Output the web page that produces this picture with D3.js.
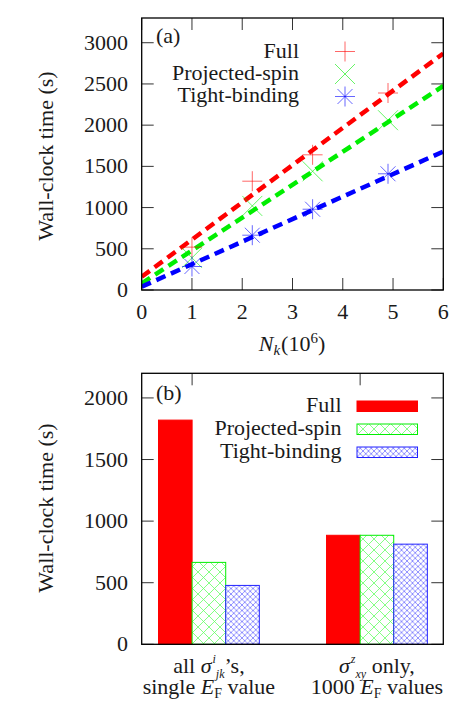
<!DOCTYPE html>
<html><head><meta charset="utf-8"><script src="https://cdn.jsdelivr.net/npm/d3@7"></script></head>
<body style="margin:0">
<script>
// ---- data, panel (a) ----
const seriesNames = ["Full", "Projected-spin", "Tight-binding"];
const nkFull = [1.0, 2.2, 3.4, 4.9];
const timeFull = [520, 1320, 1640, 2390];
const nkProj = [1.0, 2.2, 3.4, 4.9];
const timeProj = [390, 1020, 1440, 2060];
const nkTight = [1.0, 2.2, 3.4, 4.9];
const timeTight = [285, 665, 980, 1410];
// fitted lines, end points at Nk = 0 and Nk = 6
const fitX = [0, 6];
const fitFull = [160, 2870];
const fitProj = [80, 2475];
const fitTight = [40, 1680];
const xTicksA = [0, 1, 2, 3, 4, 5, 6];
const yTicksA = [0, 500, 1000, 1500, 2000, 2500, 3000];

// ---- data, panel (b) ----
const barFull = [1820, 885];
const barProj = [665, 885];
const barTight = [478, 813];
const yTicksB = [0, 500, 1000, 1500, 2000];

const colors = ["#ff0000", "#00ee00", "#0000ff"];
const FS = 22;
const svg = d3.select("body").append("svg")
    .attr("id", "fig")
    .attr("width", 473).attr("height", 709)
    .style("display", "block");

// patterns for the hatched bars
const defs = svg.append("defs");
function hatch(id, size, color) {
    let p = defs.append("pattern")
        .attr("id", id)
        .attr("patternUnits", "userSpaceOnUse")
        .attr("width", size).attr("height", size);
    p.append("rect").attr("width", size).attr("height", size).style("fill", "#fff");
    p.append("path")
        .attr("d", `M0,0L${size},${size}M${size},0L0,${size}`)
        .style("stroke", color).style("stroke-width", 0.8).style("fill", "none");
}
hatch("hatchGreen", 11, "#66ff66");
hatch("hatchBlue", 5.5, "#7777ff");

function frame(g, x0, x1, y0, y1) {
    g.append("rect")
        .attr("x", x0).attr("y", y0)
        .attr("width", x1 - x0).attr("height", y1 - y0)
        .style("fill", "none").style("stroke", "#000").style("stroke-width", 1.3);
}

// text helper: font set directly on every label
function label(g, x, y, anchor) {
    return g.append("text")
        .attr("x", x).attr("y", y)
        .attr("text-anchor", anchor || "start")
        .style("font-family", '"Liberation Serif", "Times New Roman"', "important")
        .style("font-size", FS + "px")
        .style("fill", "#1a1a1a");
}

// ================= panel (a) =================
const L = 141.7, R = 443.3;
const xA = d3.scaleLinear().domain([0, 6]).range([L, R]);
const yA = d3.scaleLinear().domain([0, 3300]).range([290, 18]);
const gA = svg.append("g");

// ticks (mirrored on all sides)
const tickLen = 12;
gA.selectAll(".xt").data(xTicksA).enter().append("path")
    .attr("d", d => `M${xA(d)},290v${-tickLen}M${xA(d)},18v${tickLen}`)
    .style("stroke", "#333").style("stroke-width", 1);
gA.selectAll(".yt").data(yTicksA).enter().append("path")
    .attr("d", d => `M${L},${yA(d)}h${tickLen}M${R},${yA(d)}h${-tickLen}`)
    .style("stroke", "#333").style("stroke-width", 1);

xTicksA.forEach(d => label(gA, xA(d), 319, "middle").text(d));
yTicksA.forEach(d => label(gA, 128, yA(d) + 7, "end").text(d));

// fit lines
const fits = [fitFull, fitProj, fitTight];
const line = d3.line().x((d, i) => xA(fitX[i])).y(d => yA(d));
gA.append("clipPath").attr("id", "clipA").append("rect")
    .attr("x", L).attr("y", 18).attr("width", R - L).attr("height", 272);
fits.forEach((f, i) => {
    gA.append("path")
        .attr("d", line(f))
        .attr("clip-path", "url(#clipA)")
        .style("fill", "none").style("stroke", colors[i])
        .style("stroke-width", 4.5).style("stroke-dasharray", "10,6");
});

// point markers
function marker(g, type, cx, cy, color, s) {
    let d = "";
    if (type === 0 || type === 2) d += `M${cx - s},${cy}h${2 * s}M${cx},${cy - s}v${2 * s}`;
    if (type === 1 || type === 2) {
        let k = type === 1 ? s : s * 0.75;
        d += `M${cx - k},${cy - k}L${cx + k},${cy + k}M${cx - k},${cy + k}L${cx + k},${cy - k}`;
    }
    g.append("path").attr("d", d)
        .style("stroke", color).style("stroke-width", 1).style("opacity", 0.6).style("fill", "none");
}
const pts = [[nkFull, timeFull], [nkProj, timeProj], [nkTight, timeTight]];
pts.forEach((p, i) => {
    p[0].forEach((x, j) => marker(gA, i, xA(x), yA(p[1][j]), colors[i], 10));
});

frame(gA, L, R, 18, 290);

// legend (a)
seriesNames.forEach((n, i) => {
    label(gA, 299, 58 + 22 * i, "end").text(n);
    marker(gA, i, 345, 51.5 + 22.5 * i, colors[i], 10);
});
label(gA, 156, 43).text("(a)");

// axis titles (a)
label(gA, 0, 0, "middle")
    .attr("transform", "translate(53,156) rotate(-90)")
    .text("Wall-clock time (s)");
const xt = label(gA, 292, 351, "middle");
xt.append("tspan").style("font-style", "italic").text("N");
xt.append("tspan").style("font-style", "italic").style("font-size", "15px").attr("dy", 4).text("k");
xt.append("tspan").attr("dy", -4).attr("dx", 1).text("(10");
xt.append("tspan").style("font-size", "15px").attr("dy", -8).text("6");
xt.append("tspan").attr("dy", 8).text(")");

// ================= panel (b) =================
const T = 373.3, B = 644.3;
const xB = d3.scaleLinear().domain([-0.3, 1.495]).range([L, R]);
const yB = d3.scaleLinear().domain([0, 2200]).range([B, T]);
const gB = svg.append("g");
const barW = 0.2;
const bars = [barFull, barProj, barTight];
const fills = ["#ff0000", "url(#hatchGreen)", "url(#hatchBlue)"];
const strokes = ["#ff0000", "#00ee00", "#2222ff"];

gB.selectAll(".yt").data(yTicksB).enter().append("path")
    .attr("d", d => `M${L},${yB(d)}h${tickLen}M${R},${yB(d)}h${-tickLen}`)
    .style("stroke", "#333").style("stroke-width", 1);
gB.selectAll(".xt").data([0, 1]).enter().append("path")
    .attr("d", d => `M${xB(d)},${T}v${tickLen}`)
    .style("stroke", "#333").style("stroke-width", 1);
yTicksB.forEach(d => label(gB, 128, yB(d) + 7, "end").text(d));

bars.forEach((vals, s) => {
    gB.selectAll(".b" + s).data(vals).enter().append("rect")
        .attr("x", (d, c) => xB(c - barW + s * barW))
        .attr("width", xB(barW) - xB(0))
        .attr("y", d => yB(d))
        .attr("height", d => B - yB(d))
        .style("fill", fills[s])
        .style("stroke", strokes[s]).style("stroke-width", 1);
});

frame(gB, L, R, T, B);

// legend (b)
seriesNames.forEach((n, i) => {
    label(gB, 341.5, 411.5 + 23 * i, "end").text(n);
    gB.append("rect")
        .attr("x", 357).attr("y", 401 + 23 * i)
        .attr("width", 60.5).attr("height", 10.5)
        .style("fill", fills[i]).style("stroke", strokes[i]).style("stroke-width", 1);
});
label(gB, 156, 400).text("(b)");

label(gB, 0, 0, "middle")
    .attr("transform", "translate(53,508) rotate(-90)")
    .text("Wall-clock time (s)");

// category labels
const c1 = label(gB, xB(0.1), 673, "middle");
c1.append("tspan").text("all ");
c1.append("tspan").style("font-style", "italic").text("σ");
c1.append("tspan").style("font-style", "italic").style("font-size", "12px").attr("dx", 1).attr("dy", -10).text("i");
c1.append("tspan").style("font-style", "italic").style("font-size", "12px").attr("dy", 15).text("jk");
c1.append("tspan").attr("dy", -5).text("’s,");
const c2 = label(gB, xB(0.1), 694, "middle");
c2.append("tspan").text("single ");
c2.append("tspan").style("font-style", "italic").text("E");
c2.append("tspan").style("font-size", "14px").attr("dy", 4).text("F");
c2.append("tspan").attr("dy", -4).text(" value");

const c3 = label(gB, xB(1.1), 673, "middle");
c3.append("tspan").style("font-style", "italic").text("σ");
c3.append("tspan").style("font-style", "italic").style("font-size", "12px").attr("dx", 1).attr("dy", -10).text("z");
c3.append("tspan").style("font-style", "italic").style("font-size", "12px").attr("dy", 15).text("xy");
c3.append("tspan").attr("dy", -5).text(" only,");
const c4 = label(gB, xB(1.1), 694, "middle");
c4.append("tspan").text("1000 ");
c4.append("tspan").style("font-style", "italic").text("E");
c4.append("tspan").style("font-size", "14px").attr("dy", 4).text("F");
c4.append("tspan").attr("dy", -4).text(" values");
</script>
</body>
</html>
